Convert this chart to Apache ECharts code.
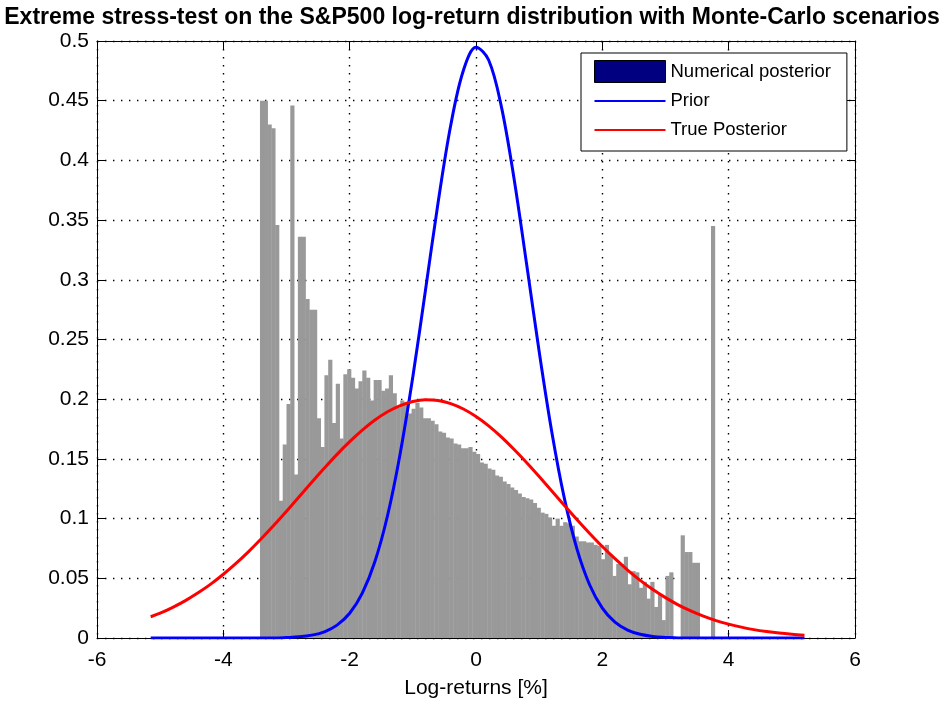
<!DOCTYPE html>
<html>
<head>
<meta charset="utf-8">
<title>Extreme stress-test on the S&P500 log-return distribution</title>
<script src="https://cdn.jsdelivr.net/npm/echarts@6/dist/echarts.min.js"></script>
<style>
  html, body { margin: 0; padding: 0; background: #ffffff; }
  #chart { width: 944px; height: 704px; }
</style>
</head>
<body>
<div id="chart"></div>
<script>
// Histogram of the Monte-Carlo scenarios under the posterior probabilities
const binStart = -3.42;   // left edge of the first bin (log-return, %)
const binWidth = 0.06;    // width of each bin (log-return, %)
const posteriorDensity = [
  0.450, 0.450, 0.430, 0.427, 0.346, 0.115, 0.162, 0.196, 0.446, 0.137,
  0.336, 0.336, 0.284, 0.275, 0.275, 0.184, 0.160, 0.220, 0.233, 0.180,
  0.213, 0.167, 0.221, 0.225, 0.218, 0.209, 0.215, 0.224, 0.218, 0.199,
  0.216, 0.216, 0.207, 0.209, 0.220, 0.205, 0.193, 0.199, 0.196, 0.188,
  0.192, 0.197, 0.193, 0.184, 0.184, 0.182, 0.179, 0.173, 0.172, 0.168,
  0.167, 0.163, 0.162, 0.159, 0.159, 0.160, 0.156, 0.154, 0.147, 0.146,
  0.142, 0.141, 0.136, 0.135, 0.131, 0.129, 0.126, 0.124, 0.121, 0.118,
  0.117, 0.116, 0.113, 0.109, 0.105, 0.104, 0.101, 0.094, 0.100, 0.094,
  0.097, 0.096, 0.094, 0.085, 0.081, 0.081, 0.080, 0.080, 0.078, 0.077,
  0.066, 0.078, 0.070, 0.052, 0.062, 0.062, 0.068, 0.045, 0.056, 0.055,
  0.042, 0.047, 0.033, 0.047, 0.026, 0.036, 0.015, 0.052, 0.055, 0.000,
  0.000, 0.086, 0.072, 0.072, 0.063, 0.063, 0.000, 0.000, 0.000, 0.345,
  0.000
];

// Density curves sampled along the log-return axis
const curveX = [
  -5.15, -5.0, -4.8, -4.6, -4.4, -4.2, -4.0, -3.8, -3.6, -3.4, -3.2, -3.0,
  -2.8, -2.6, -2.4, -2.2, -2.0, -1.8, -1.6, -1.4, -1.2, -1.0, -0.8, -0.6,
  -0.4, -0.2, 0.0, 0.2, 0.4, 0.6, 0.8, 1.0, 1.2, 1.4, 1.6, 1.8, 2.0, 2.2,
  2.4, 2.6, 2.8, 3.0, 3.2, 3.4, 3.6, 3.8, 4.0, 4.2, 4.4, 4.6, 4.8, 5.0, 5.2
];
const priorDensity = [
  0, 0, 0, 0, 0, 0, 0, 0, 0, 0, 0, 0.0004,
  0.0010, 0.0024, 0.0052, 0.0108, 0.0207, 0.0376, 0.0641, 0.1026, 0.1546, 0.2188, 0.2913, 0.3647,
  0.4294, 0.4753, 0.4947, 0.4841, 0.4455, 0.3855, 0.3136, 0.2399, 0.1726, 0.1167, 0.0742, 0.0444, 0.0250, 0.0132,
  0.0066, 0.0031, 0.0013, 0.0005, 0, 0, 0, 0, 0, 0, 0, 0, 0, 0, 0
];
const truePosteriorDensity = [
  0.0178, 0.0208, 0.0257, 0.0313, 0.0378, 0.0451, 0.0534, 0.0625, 0.0724, 0.0831, 0.0944, 0.1062,
  0.1183, 0.1304, 0.1423, 0.1538, 0.1644, 0.1741, 0.1826, 0.1895, 0.1947, 0.1981, 0.1995, 0.1989,
  0.1963, 0.1918, 0.1855, 0.1777, 0.1685, 0.1581, 0.1470, 0.1352, 0.1231, 0.1110, 0.0991, 0.0876, 0.0766, 0.0664,
  0.0569, 0.0483, 0.0406, 0.0338, 0.0278, 0.0227, 0.0183, 0.0146, 0.0116, 0.0091, 0.0070, 0.0054, 0.0041, 0.0031, 0.0023
];

const FONT = 'Liberation Sans, Arial, Helvetica, sans-serif';

// Legend glyph for the curves: a thin horizontal stroke centred in a 71x22 box
const LINE_ICON = 'path://M0,0 M0,10 L71,10 L71,12 L0,12 Z M71,22';

const histData = posteriorDensity.map((h, i) => [
  binStart + i * binWidth,
  binStart + (i + 1) * binWidth,
  h
]);
const priorData = curveX.map((x, i) => [x, priorDensity[i]]);
const postData = curveX.map((x, i) => [x, truePosteriorDensity[i]]);

const gridDash = { color: '#000', width: 1.4, type: [1.4, 6.6] };

const chart = echarts.init(document.getElementById('chart'), null, { renderer: 'canvas' });
chart.setOption({
  backgroundColor: '#ffffff',
  animation: false,
  title: {
    text: 'Extreme stress-test on the S&P500 log-return distribution with Monte-Carlo scenarios',
    left: 'center',
    top: 1,
    textStyle: { fontFamily: FONT, fontWeight: 'bold', fontSize: 23, color: '#000' }
  },
  grid: { left: 97, right: 89, top: 41, bottom: 64, containLabel: false },
  legend: {
    orient: 'vertical',
    left: 581,
    top: 53,
    padding: [7, 16, 10, 13],
    itemWidth: 71,
    itemHeight: 22,
    itemGap: 7,
    backgroundColor: '#ffffff',
    borderColor: '#000',
    borderWidth: 1,
    borderRadius: 0,
    textStyle: { fontFamily: FONT, fontSize: 18.5, color: '#000' },
    data: [
      { name: 'Numerical posterior', icon: 'rect',
        itemStyle: { color: '#000080', borderColor: '#000', borderWidth: 1 } },
      { name: 'Prior', icon: LINE_ICON,
        itemStyle: { color: '#0000ff', borderWidth: 0 } },
      { name: 'True Posterior', icon: LINE_ICON,
        itemStyle: { color: '#ff0000', borderWidth: 0 } }
    ]
  },
  xAxis: [
    {
      type: 'value', position: 'bottom', min: -6, max: 6, interval: 2,
      name: 'Log-returns [%]', nameLocation: 'middle', nameGap: 40,
      nameTextStyle: { fontFamily: FONT, fontSize: 21, color: '#000' },
      axisLine: { onZero: false, lineStyle: { color: '#000', width: 1 } },
      axisTick: { inside: true, length: 8, lineStyle: { color: '#000' } },
      axisLabel: { fontFamily: FONT, fontSize: 21, color: '#000', margin: 12 },
      splitLine: { show: true, lineStyle: gridDash }
    },
    {
      type: 'value', position: 'top', min: -6, max: 6, interval: 2,
      axisLine: { onZero: false, lineStyle: { color: '#000', width: 1 } },
      axisTick: { inside: true, length: 8, lineStyle: { color: '#000' } },
      axisLabel: { show: false },
      splitLine: { show: false }
    }
  ],
  yAxis: [
    {
      type: 'value', position: 'left', min: 0, max: 0.5, interval: 0.05,
      axisLine: { show: true, onZero: false, lineStyle: { color: '#000', width: 1 } },
      axisTick: { show: true, inside: true, length: 8, lineStyle: { color: '#000' } },
      axisLabel: { fontFamily: FONT, fontSize: 21, color: '#000', margin: 8 },
      splitLine: { show: true, lineStyle: gridDash }
    },
    {
      type: 'value', position: 'right', min: 0, max: 0.5, interval: 0.05,
      axisLine: { show: true, onZero: false, lineStyle: { color: '#000', width: 1 } },
      axisTick: { show: true, inside: true, length: 8, lineStyle: { color: '#000' } },
      axisLabel: { show: false },
      splitLine: { show: false }
    }
  ],
  series: [
    {
      name: 'Numerical posterior',
      type: 'custom',
      xAxisIndex: 0, yAxisIndex: 0,
      clip: true,
      itemStyle: { color: '#000080' },
      encode: { x: [0, 1], y: 2 },
      data: histData,
      renderItem: function (params, api) {
        const p0 = api.coord([api.value(0), 0]);
        const p1 = api.coord([api.value(1), api.value(2)]);
        return {
          type: 'rect',
          shape: { x: p0[0], y: p1[1], width: p1[0] - p0[0] + 0.4, height: p0[1] - p1[1] },
          style: { fill: '#999999', stroke: null }
        };
      }
    },
    {
      name: 'Prior',
      type: 'line',
      xAxisIndex: 0, yAxisIndex: 0,
      data: priorData,
      smooth: 0.35,
      symbol: 'none',
      lineStyle: { color: '#0000ff', width: 3 },
      itemStyle: { color: '#0000ff' }
    },
    {
      name: 'True Posterior',
      type: 'line',
      xAxisIndex: 0, yAxisIndex: 0,
      data: postData,
      smooth: 0.35,
      symbol: 'none',
      lineStyle: { color: '#ff0000', width: 3 },
      itemStyle: { color: '#ff0000' }
    }
  ]
});
</script>
</body>
</html>
